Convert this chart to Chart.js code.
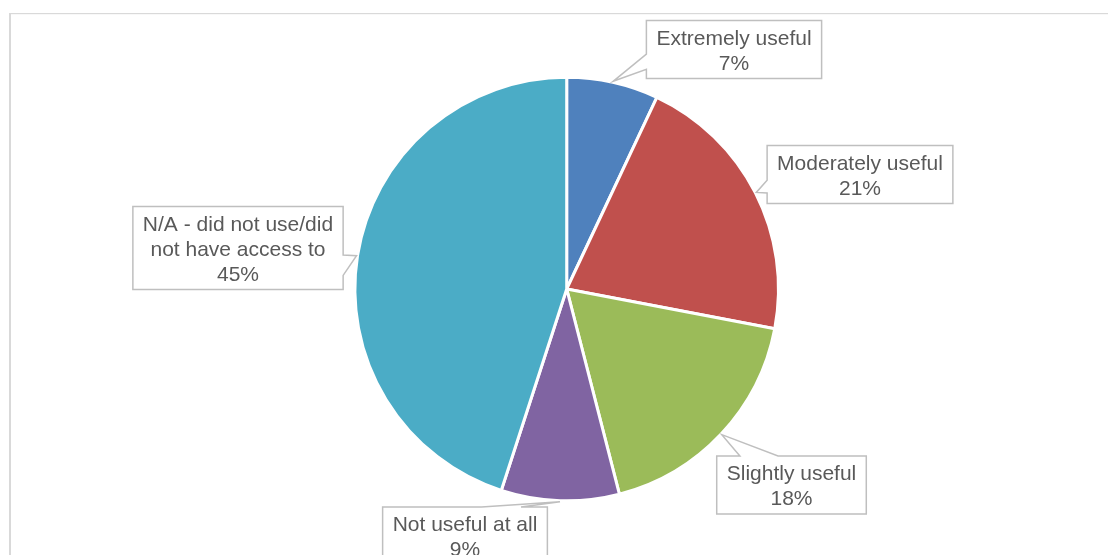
<!DOCTYPE html>
<html>
<head>
<meta charset="utf-8">
<script src="https://cdn.jsdelivr.net/npm/chart.js@4/dist/chart.umd.min.js"></script>
<style>
  html, body { margin: 0; padding: 0; background: #ffffff; }
  #wrap { width: 1108px; height: 555px; position: relative; }
</style>
</head>
<body>
<div id="wrap"><canvas id="chart" width="1108" height="555"></canvas></div>
<script>
// Survey responses: how useful was the resource
const categories = [
  'Extremely useful',
  'Moderately useful',
  'Slightly useful',
  'Not useful at all',
  'N/A - did not use/did not have access to'
];
const shares = [7, 21, 18, 9, 45];
const sliceColors = ['#4F81BD', '#C0504D', '#9BBB59', '#8064A2', '#4BACC6'];

// Callout text lines for each slice (the category name wrapped, then the share)
const calloutLines = [
  ['Extremely useful'],
  ['Moderately useful'],
  ['Slightly useful'],
  ['Not useful at all'],
  ['N/A - did not use/did', 'not have access to']
];

// Callout box placement: centre of the box, side that carries the pointer,
// and where the pointer base sits along that side (fractions of the side)
const calloutLayout = [
  { cx: 734,   cy: 49.5,  side: 'left',  from: 0.58, to: 0.84 },
  { cx: 860,   cy: 174.5, side: 'left',  from: 0.60, to: 0.82 },
  { cx: 791.5, cy: 485,   side: 'top',   from: 0.155, to: 0.41 },
  { cx: 465,   cy: 536,   side: 'top',   from: 0.60, to: 0.84 },
  { cx: 238,   cy: 248,   side: 'right', from: 0.585, to: 0.83 }
];

const FONT = '21px "Liberation Sans", Arial, sans-serif';
const LINE_H = 25;

const framePlugin = {
  id: 'frame',
  beforeDraw(chart) {
    const ctx = chart.ctx;
    ctx.save();
    ctx.fillStyle = '#ffffff';
    ctx.fillRect(0, 0, chart.width, chart.height);
    ctx.fillStyle = '#d9d9d9';
    ctx.fillRect(9, 13, 2, chart.height);
    ctx.fillRect(9, 13, chart.width, 1.2);
    ctx.restore();
  }
};

const calloutPlugin = {
  id: 'callouts',
  afterDraw(chart) {
    const ctx = chart.ctx;
    const meta = chart.getDatasetMeta(0);
    const data = chart.data.datasets[0].data;
    ctx.save();
    ctx.font = FONT;
    meta.data.forEach((arc, i) => {
      const p = arc.getProps(['x', 'y', 'startAngle', 'endAngle', 'outerRadius'], true);
      const mid = (p.startAngle + p.endAngle) / 2;
      const tipR = p.outerRadius + 1;
      const tx = p.x + Math.cos(mid) * tipR;
      const ty = p.y + Math.sin(mid) * tipR;

      const lines = calloutLines[i].concat([data[i] + '%']);
      const textW = Math.max(...lines.map(l => ctx.measureText(l).width));
      const w = textW + 20;
      const h = lines.length * LINE_H + 8;
      const L = calloutLayout[i];
      const x0 = L.cx - w / 2, y0 = L.cy - h / 2;
      const x1 = x0 + w, y1 = y0 + h;

      // box outline with a wedge pointing at the slice
      ctx.beginPath();
      if (L.side === 'left') {
        const a = y0 + h * L.from, b = y0 + h * L.to;
        ctx.moveTo(x0, y0); ctx.lineTo(x1, y0); ctx.lineTo(x1, y1); ctx.lineTo(x0, y1);
        ctx.lineTo(x0, b); ctx.lineTo(tx, ty); ctx.lineTo(x0, a);
      } else if (L.side === 'right') {
        const a = y0 + h * L.from, b = y0 + h * L.to;
        ctx.moveTo(x0, y0); ctx.lineTo(x1, y0); ctx.lineTo(x1, a); ctx.lineTo(tx, ty);
        ctx.lineTo(x1, b); ctx.lineTo(x1, y1); ctx.lineTo(x0, y1);
      } else {
        const a = x0 + w * L.from, b = x0 + w * L.to;
        ctx.moveTo(x0, y0); ctx.lineTo(a, y0); ctx.lineTo(tx, ty); ctx.lineTo(b, y0);
        ctx.lineTo(x1, y0); ctx.lineTo(x1, y1); ctx.lineTo(x0, y1);
      }
      ctx.closePath();
      ctx.fillStyle = '#ffffff';
      ctx.fill();
      ctx.lineWidth = 1.5;
      ctx.strokeStyle = '#bfbfbf';
      ctx.lineJoin = 'miter';
      ctx.stroke();

      ctx.fillStyle = '#595959';
      ctx.textAlign = 'center';
      ctx.textBaseline = 'alphabetic';
      lines.forEach((line, k) => {
        const centreY = y0 + 4 + LINE_H * k + LINE_H / 2;
        ctx.fillText(line, L.cx, centreY + 7.5);
      });
    });
    ctx.restore();
  }
};

new Chart(document.getElementById('chart'), {
  type: 'pie',
  data: {
    labels: categories,
    datasets: [{
      data: shares,
      backgroundColor: sliceColors,
      borderColor: '#ffffff',
      borderWidth: 3,
      hoverBorderWidth: 3,
      hoverOffset: 0
    }]
  },
  options: {
    responsive: false,
    animation: false,
    radius: 211.8,
    layout: { padding: { left: 26, right: 0.6, top: 23, bottom: 0 } },
    plugins: {
      legend: { display: false },
      tooltip: { enabled: false }
    },
    events: []
  },
  plugins: [framePlugin, calloutPlugin]
});
</script>
</body>
</html>
